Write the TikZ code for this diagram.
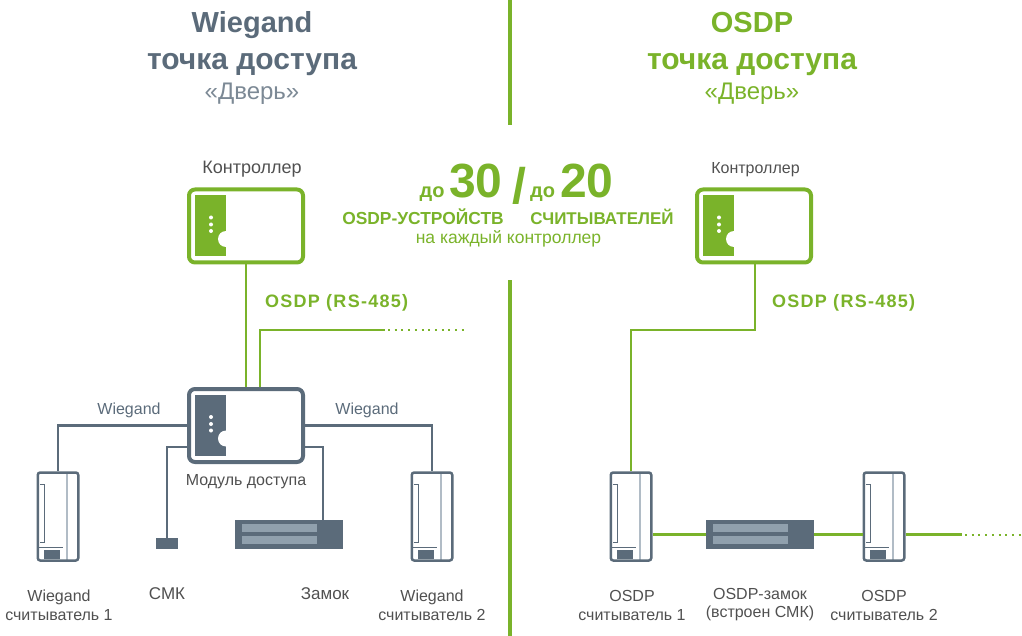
\documentclass[tikz,border=0pt]{standalone}
\usepackage{fontspec}
\setmainfont{Liberation Sans}
\definecolor{grn}{HTML}{7AB32A}
\definecolor{slate}{HTML}{5B6B7A}
\definecolor{bar}{HTML}{90A0AD}
\definecolor{txt}{HTML}{505050}
\newcommand{\fs}[1]{\fontsize{#1}{#1}\selectfont}
\tikzset{
    ctlbox/.style={draw=#1, line width=4, rounded corners=6, minimum width=114, minimum height=73, inner sep=0,
        path picture={
            \fill[#1, rounded corners=0] (-51.5,-31) rectangle (-20,30);
            \fill[white] (-20,13) circle (8);
            \foreach \y in {-8.5,-1.5,5} \fill[white] (-35,\y) circle (2);
        }},
    rdbox/.style={draw=slate, line width=2.5, rounded corners=2.5, minimum width=40.5, minimum height=88, inner sep=0,
        path picture={
            \draw[line width=1.5, bar!70, rounded corners=0] (8.75,-44) -- (8.75,44);
            \draw[line width=1, slate, rounded corners=0] (-18.25,-32.5) -- (-13.75,-32.5) -- (-13.75,25.5) -- (-18.25,25.5);
            \draw[line width=1, slate, rounded corners=0] (-19.25,31) -- (4.75,31);
            \fill[slate, rounded corners=0] (-14,33.5) rectangle (2,42.5);
        }},
    lockbox/.style={fill=slate, minimum width=108, minimum height=29, inner sep=0,
        path picture={
            \fill[bar] (-47,-10.5) rectangle (28,-2.5);
            \fill[bar] (-47,1.5) rectangle (28,9.5);
        }},
    smkbox/.style={fill=slate, minimum width=22, minimum height=11, inner sep=0},
    wire/.style={draw=slate, line width=2.5},
    wirethin/.style={draw=slate, line width=2},
    osdp/.style={draw=grn, line width=2.2},
    dots/.style={draw=grn, line width=2, dash pattern=on 2 off 4.7},
    lbl/.style={text=txt, inner sep=0, align=center, font=\fs{16}},
    title/.style={text=#1, inner sep=0, font=\fs{30}\bfseries, anchor=base},
    sp/.style={text=grn, inner sep=0, anchor=west, font=\fs{18}\bfseries\addfontfeature{LetterSpace=7}},
}
\begin{document}
\begin{tikzpicture}[x=1pt, y=-1pt]
    \useasboundingbox (0,0) rectangle (1022,636);
    \fill[grn] (508,0) rectangle (512,125);
    \fill[grn] (508,280) rectangle (512,636);

    \node[title=slate, font=\fs{29}\bfseries] (hl1) at (252,33) {Wiegand};
    \node[title=slate] (hl2) at (252,70) {точка доступа};
    \node[title=slate!80, font=\fs{24}] (hl3) at (252,100) {«Дверь»};
    \node[title=grn, font=\fs{29}\bfseries] (hr1) at (752,33) {OSDP};
    \node[title=grn] (hr2) at (752,70) {точка доступа};
    \node[title=grn, font=\fs{24}] (hr3) at (752,100) {«Дверь»};

    \node[title=grn, font=\fs{20}\bfseries, anchor=base west] (do1) at (419.5,198) {до};
    \node[title=grn, font=\fs{48}\bfseries, anchor=base west] (n30) at (449,198) {30};
    \node[title=grn, font=\fs{50}\bfseries] (slash) at (519,204) {/};
    \node[title=grn, font=\fs{20}\bfseries, anchor=base west] (do2) at (530,198) {до};
    \node[title=grn, font=\fs{48}\bfseries, anchor=base west] (n20) at (560,198) {20};
    \node[title=grn, font=\fs{17.4}\bfseries] (dev) at (423,225) {OSDP-УСТРОЙСТВ};
    \node[title=grn, font=\fs{17}\bfseries] (rdr) at (602,225) {СЧИТЫВАТЕЛЕЙ};
    \node[lbl, text=grn, font=\fs{17.5}] (each) at (508.5,239) {на каждый контроллер};

    \node[lbl, font=\fs{18}] (c1) at (252,169.5) {Контроллер};
    \node[lbl] (c2) at (755.5,169.5) {Контроллер};
    \node[ctlbox=grn] (ctl1) at (246,226) {};
    \node[ctlbox=grn] (ctl2) at (754,226) {};
    \node[ctlbox=slate] (mdl) at (246,425.5) {};
    \node[lbl] (m1) at (246,482) {Модуль доступа};

    \node[rdbox] (rd1) at (58,516.5) {};
    \node[rdbox] (rd2) at (432,516.5) {};
    \node[rdbox] (rd3) at (631,516.5) {};
    \node[rdbox] (rd4) at (884,516.5) {};
    \node[smkbox] (smk) at (167,543.5) {};
    \node[lockbox] (lock1) at (289,534.5) {};
    \node[lockbox] (lock2) at (760,534.5) {};

    \coordinate (p1) at (385,330);
    \coordinate (p2) at (388,330);
    \coordinate (p3) at (465,330);
    \coordinate (p4) at (755,330);
    \coordinate (p5) at (962,534.5);
    \coordinate (p6) at (965,534.5);
    \coordinate (p7) at (1022,534.5);

    \draw[osdp] (ctl1) -- (mdl);
    \draw[osdp] ([xshift=14pt]mdl.north) |- (p1);
    \draw[dots] (p2) -- (p3);
    \draw[osdp] (rd3.north) |- (p4) -- (ctl2.south -| p4);
    \draw[osdp] (lock2.west) -- (lock2.west -| rd3.east);
    \draw[osdp] (lock2.east) -- (lock2.east -| rd4.west);
    \draw[osdp] (p5 -| rd4.east) -- (p5);
    \draw[dots] (p6) -- (p7);
    \draw[wire] (mdl.west) -| (rd1.north);
    \draw[wire] (mdl.east) -| (rd2.north);
    \draw[wirethin] ([yshift=-21pt]mdl.west) -| (smk.north);
    \draw[wirethin] ([yshift=-21pt]mdl.east) -| ([xshift=33.5pt]lock1.north);

    \node[sp] (os1) at (265,303) {OSDP (RS-485)};
    \node[sp] (os2) at (772,303) {OSDP (RS-485)};
    \node[lbl, text=slate] (w1) at (129,410) {Wiegand};
    \node[lbl, text=slate] (w2) at (367,410) {Wiegand};

    \node[lbl] (t1) at (59,605) {Wiegand\\[3pt]считыватель 1};
    \node[lbl, font=\fs{17}] (t2) at (167,594) {СМК};
    \node[lbl, font=\fs{17}] (t3) at (325,594) {Замок};
    \node[lbl] (t4) at (432,605) {Wiegand\\[3pt]считыватель 2};
    \node[lbl] (t5) at (632,605) {OSDP\\[3pt]считыватель 1};
    \node[lbl] (t6) at (760,604.5) {OSDP-замок\\[2pt](встроен СМК)};
    \node[lbl] (t7) at (884,605) {OSDP\\[3pt]считыватель 2};
\end{tikzpicture}
\end{document}
